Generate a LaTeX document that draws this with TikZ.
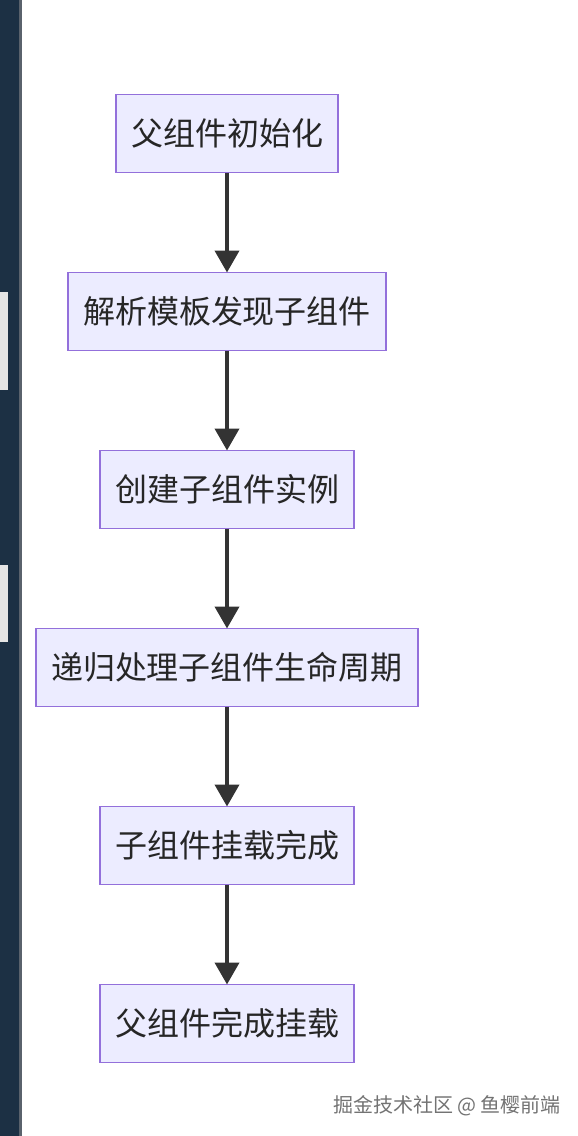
\documentclass[tikz,border=0pt]{standalone}
\usepackage{fontspec}
\usepackage{tikz}
\usetikzlibrary{positioning,arrows.meta}
\newfontfamily\cjk{Noto Sans CJK SC}
\definecolor{stepfill}{RGB}{236,236,255}
\definecolor{steprule}{RGB}{147,112,219}
\definecolor{linkgray}{RGB}{51,51,51}
\definecolor{stripdark}{RGB}{28,48,68}
\definecolor{stripedge}{RGB}{90,98,108}
\tikzset{
  stepbox/.style={rectangle,draw=steprule,line width=1.6pt,fill=stepfill,align=center,
    inner xsep=15pt,inner ysep=0pt,minimum height=78pt,outer sep=0pt,
    font=\cjk\fontsize{32pt}{38pt}\selectfont,text=black!85},
  link/.style={-{Triangle[length=22pt,width=24pt]},line width=4pt,draw=linkgray},
  wmtext/.style={font=\cjk\fontsize{20pt}{24pt}\selectfont,text=black!55}
}
\begin{document}
\begin{tikzpicture}[x=1pt,y=1pt,node distance=100pt]
  \useasboundingbox (0,0) rectangle (578,-1136);
  \fill[white] (0,0) rectangle (578,-1136);
  % dark strip on the left edge
  \fill[stripdark] (0,0) rectangle (19,-1136);
  \fill[black!10] (0,-292) rectangle (8,-390);
  \fill[black!10] (0,-565) rectangle (8,-642);
  \fill[stripedge] (19,0) rectangle (22,-1136);

  \node[stepbox] (init) at (227,-133.5) {父组件初始化};
  \node[stepbox,below=of init] (parse) {解析模板发现子组件};
  \node[stepbox,below=of parse] (create) {创建子组件实例};
  \node[stepbox,below=of create] (recur) {递归处理子组件生命周期};
  \node[stepbox,below=of recur] (childmnt) {子组件挂载完成};
  \node[stepbox,below=of childmnt] (parentmnt) {父组件完成挂载};

  \draw[link] (init) -- (parse);
  \draw[link] (parse) -- (create);
  \draw[link] (create) -- (recur);
  \draw[link] (recur) -- (childmnt);
  \draw[link] (childmnt) -- (parentmnt);

  \node[wmtext] (wm) at (447,-1106) {掘金技术社区 @ 鱼樱前端};
\end{tikzpicture}
\end{document}
